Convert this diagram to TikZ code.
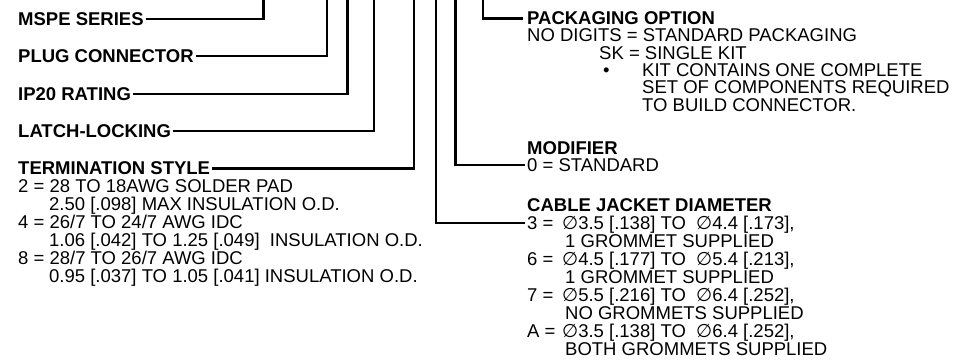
\documentclass[tikz,border=0pt]{standalone}
\usepackage{fontspec}
\setmainfont{Liberation Sans}
\newfontfamily\diafont{DejaVu Sans}
\newcommand{\dia}{{\diafont ∅}}

\tikzset{
  title/.style={anchor=base west, inner sep=0pt, font=\fontsize{18.5}{18}\selectfont\bfseries},
  desc/.style={anchor=base west, inner sep=0pt, align=left, font=\fontsize{18.5}{18}\selectfont},
  lead/.style={line width=2.2pt}
}

\begin{document}
\begin{tikzpicture}[x=1pt,y=-1pt]
    \useasboundingbox (0,0) rectangle (962,362);

    \coordinate (mspetop) at (263.5,0);
    \coordinate (plugtop) at (327,0);
    \coordinate (ipratetop) at (347.5,0);
    \coordinate (latchtop) at (374,0);
    \coordinate (termtop) at (414,0);
    \coordinate (cabletop) at (436,0);
    \coordinate (modtop) at (455.5,0);
    \coordinate (packtop) at (483,0);

    \node (mspe) at (18,25.2) [title] {MSPE SERIES};
    \node (plug) at (18,62.6) [title] {PLUG CONNECTOR};
    \node (iprate) at (18,100) [title] {IP20 RATING};
    \node (latch) at (18,137.4) [title] {LATCH-LOCKING};
    \node (term) at (18,174.8) [title] {TERMINATION STYLE};
    % base of a block is the baseline of its last line
    \node (termdesc) at (18,282.8) [desc] {2 = 28 TO 18AWG SOLDER PAD\\
          \hspace*{31pt}2.50 [.098] MAX INSULATION O.D.\\
          4 = 26/7 TO 24/7 AWG IDC\\
          \hspace*{31pt}1.06 [.042] TO 1.25 [.049]\ \ INSULATION O.D.\\
          8 = 28/7 TO 26/7 AWG IDC\\
          \hspace*{31pt}0.95 [.037] TO 1.05 [.041] INSULATION O.D.};

    \node (pack) at (527,24.9) [title] {PACKAGING OPTION};
    \node (packdesc) at (527,111.2) [desc, font=\fontsize{18.5}{17.4}\selectfont] {NO DIGITS = STANDARD PACKAGING\\
          \hspace*{72pt}SK = SINGLE KIT\\
          \hspace*{76pt}\makebox[39pt][l]{•}KIT CONTAINS ONE COMPLETE\\
          \hspace*{115pt}SET OF COMPONENTS REQUIRED\\
          \hspace*{115pt}TO BUILD CONNECTOR.};

    \node (mod) at (527,154.9) [title] {MODIFIER};
    \node (moddesc) at (527,171.6) [desc] {0 = STANDARD};

    \node (cable) at (527,211.8) [title] {CABLE JACKET DIAMETER};
    \node (cabledesc) at (527,355.8) [desc] {\makebox[35pt][l]{3 =}\dia3.5 [.138] TO\ \ \dia4.4 [.173],\\
          \hspace*{38pt}1 GROMMET SUPPLIED\\
          \makebox[35pt][l]{6 =}\dia4.5 [.177] TO\ \ \dia5.4 [.213],\\
          \hspace*{38pt}1 GROMMET SUPPLIED\\
          \makebox[35pt][l]{7 =}\dia5.5 [.216] TO\ \ \dia6.4 [.252],\\
          \hspace*{38pt}NO GROMMETS SUPPLIED\\
          \makebox[35pt][l]{A =}\dia3.5 [.138] TO\ \ \dia6.4 [.252],\\
          \hspace*{38pt}BOTH GROMMETS SUPPLIED};
    \coordinate (cablepin) at (525,223.2);

    \draw[lead, shorten <=2pt] (mspe.east) -| (mspetop);
    \draw[lead, shorten <=2pt] (plug.east) -| (plugtop);
    \draw[lead, shorten <=2pt] (iprate.east) -| (ipratetop);
    \draw[lead, shorten <=2pt] (latch.east) -| (latchtop);
    \draw[lead, shorten <=2pt] (term.east) -| (termtop);
    \draw[lead, shorten >=4pt] (packtop) |- (pack.west);
    \draw[lead, shorten >=2pt] (modtop) |- (moddesc.west);
    \draw[lead] (cabletop) |- (cablepin);
\end{tikzpicture}
\end{document}
